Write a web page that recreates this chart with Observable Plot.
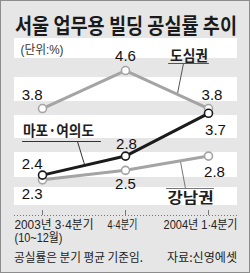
<!DOCTYPE html>
<html><head><meta charset="utf-8">
<script src="https://cdn.jsdelivr.net/npm/d3@7"></script>
<script src="https://cdn.jsdelivr.net/npm/@observablehq/plot@0.6"></script>
<style>
body{margin:0;background:#fff;}
#wrap{position:relative;width:250px;height:273px;background:#e6e6e6;overflow:hidden;font-family:"Noto Sans CJK KR",sans-serif;}
#chart{position:absolute;left:0;top:0;}
#border{position:absolute;left:0;top:0;right:0;bottom:0;border:1.5px solid #8c8c8c;pointer-events:none;}
.fit{position:absolute;white-space:nowrap;transform-origin:left center;color:#222;}
#title{left:15px;top:13px;font-size:21px;line-height:22px;font-weight:700;color:#1a1a1a;}
#note{left:14px;top:250px;font-size:12px;line-height:14px;}
#source{top:250px;font-size:12px;line-height:14px;}
</style></head><body>
<div id="wrap">
  <div id="chart"></div>
  <div id="title" class="fit" data-w="222"></div>
  <div id="note" class="fit" data-w="129"></div>
  <div id="source" class="fit" data-w="70" data-right="237"></div>
  <div id="border"></div>
</div>
<script>
// ---- data ----
const titleText = "서울 업무용 빌딩 공실률 추이";
const unitLabel = "(단위:%)";
const categories = ["2003년 3·4분기", "4·4분기", "2004년 1·4분기"];
const periodNote = "(10~12월)";
const seriesNames = ["도심권", "마포·여의도", "강남권"];
const dosim = [3.8, 4.6, 3.8];
const mapo = [2.4, 2.8, 3.7];
const gangnam = [2.3, 2.5, 2.8];
const noteText = "공실률은 분기 평균 기준임.";
const sourceText = "자료:신영에셋";

// ---- layout ----
const Y0 = 1.55, Y1 = 5.3;
const XR = [42, 208], YR = [215, 36.75];
const kx = (XR[1] - XR[0]) / (categories.length - 1);
const ky = (YR[0] - YR[1]) / (Y1 - Y0);
const px = p => (p - XR[0]) / kx;          // pixel x -> index
const py = p => Y0 + (YR[0] - p) / ky;      // pixel y -> value

const rows = vals => vals.map((v, i) => ({i, v}));
const GRAY = "#a4a4a4", BLACK = "#1b1b1b";
const numFont = '"Liberation Sans", Arial, sans-serif';
const korFont = '"Liberation Sans", "Noto Sans CJK KR", sans-serif';

const bandsPx = [[38, 58], [77, 101], [115, 138], [152, 177], [187, 205]];

const labelSpecs = [
  [dosim, 0, 0, -13, "end"], [dosim, 1, 0, -14, "middle"], [dosim, 2, 3.5, -13, "middle"],
  [mapo, 0, 0, -11, "end"], [mapo, 1, 1, -12, "middle"], [mapo, 2, 7, 17, "middle"],
  [gangnam, 0, 0, 14, "end"], [gangnam, 1, 0, 14, "middle"], [gangnam, 2, 6, 16, "middle"]
];

const seg = pts => pts.map(([a, b]) => ({x: px(a), y: py(b)}));
const callouts = [
  {name: seriesNames[0], tx: 188.5, ty: 56, under: [[168, 63], [208, 63]], lead: [[183, 63], [177, 93]], color: "#555"},
  {name: seriesNames[1], tx: 58, ty: 131, under: [[22, 141], [100, 141]], lead: [[77, 141], [84, 164]], color: "#333"},
  {name: seriesNames[2], tx: 190, ty: 198, under: [[166, 188], [213, 188]], lead: [[185, 188], [180, 161]], color: "#777"}
];

const marks = [
  Plot.rect(bandsPx, {y1: d => py(d[0]), y2: d => py(d[1]), fill: "white"}),
  Plot.ruleY([Y0], {stroke: "#777", strokeWidth: 1, strokeDasharray: "1,2"}),
  Plot.ruleX(categories.map((c, i) => i), {x: d => d, y1: Y0, y2: py(210), stroke: "#777", strokeWidth: 1}),
  Plot.text([unitLabel], {x: px(20), y: py(50), textAnchor: "start", fontSize: 12, fontFamily: korFont, fill: "#333"})
];
for (const c of callouts) {
  marks.push(Plot.line(seg(c.under), {x: "x", y: "y", stroke: c.color, strokeWidth: 1}));
  marks.push(Plot.line(seg(c.lead), {x: "x", y: "y", stroke: c.color, strokeWidth: 1}));
  marks.push(Plot.text([c.name], {x: px(c.tx), y: py(c.ty), fontSize: 15, fontWeight: 700, fontFamily: '"Noto Sans CJK KR", sans-serif', fill: "#1e1e1e"}));
}
for (const [vals, color] of [[dosim, GRAY], [gangnam, GRAY], [mapo, BLACK]]) {
  marks.push(Plot.line(rows(vals), {x: "i", y: "v", stroke: color, strokeWidth: 3}));
  marks.push(Plot.dot(rows(vals), {x: "i", y: "v", r: 4, fill: "white", stroke: color, strokeWidth: 1.6}));
}
for (const [vals, i, dx, dy, anchor] of labelSpecs) {
  marks.push(Plot.text([{i, v: vals[i]}], {x: "i", y: "v", text: d => d.v.toFixed(1), dx, dy, textAnchor: anchor,
    fontSize: 15, fontFamily: numFont, fill: "#111"}));
}
// x tick labels
marks.push(Plot.text([0], {x: d => d, y: Y0, text: d => categories[d], textAnchor: "start", dx: -28, dy: 10, fontSize: 12, fontFamily: korFont, fill: "#222"}));
marks.push(Plot.text([1], {x: d => d, y: Y0, text: d => categories[d], textAnchor: "middle", dx: -3, dy: 10, fontSize: 12, fontFamily: korFont, fill: "#222"}));
marks.push(Plot.text([2], {x: d => d, y: Y0, text: d => categories[d], textAnchor: "end", dx: 29, dy: 10, fontSize: 12, fontFamily: korFont, fill: "#222"}));
marks.push(Plot.text([0], {x: d => d, y: Y0, text: () => periodNote, textAnchor: "start", dx: -28, dy: 23, fontSize: 12, fontFamily: korFont, fill: "#222"}));

const svg = Plot.plot({
  width: 250, height: 273,
  marginLeft: 14, marginRight: 13, marginTop: 36, marginBottom: 58,
  style: {background: "transparent", overflow: "visible"},
  x: {type: "linear", domain: [0, categories.length - 1], range: XR, axis: null},
  y: {domain: [Y0, Y1], range: YR, axis: null},
  marks
});
document.getElementById("chart").appendChild(svg);

const fitMap = new Map([["도심권", 38], ["마포·여의도", 71], ["강남권", 46], [categories[0], 79], [periodNote, 48],
  [categories[1], 30], [categories[2], 74], [unitLabel, 43]]);
svg.querySelectorAll("text").forEach(t => {
  const w = fitMap.get(t.textContent);
  if (w) { t.setAttribute("textLength", w); t.setAttribute("lengthAdjust", "spacingAndGlyphs"); }
});

document.getElementById("title").textContent = titleText;
document.getElementById("note").textContent = noteText;
document.getElementById("source").textContent = sourceText;
document.querySelectorAll(".fit").forEach(el => {
  const w = el.getBoundingClientRect().width;
  const target = +el.dataset.w;
  el.style.transform = `scaleX(${target / w})`;
  if (el.dataset.right) el.style.left = (+el.dataset.right - target) + "px";
});
</script>
</body></html>
